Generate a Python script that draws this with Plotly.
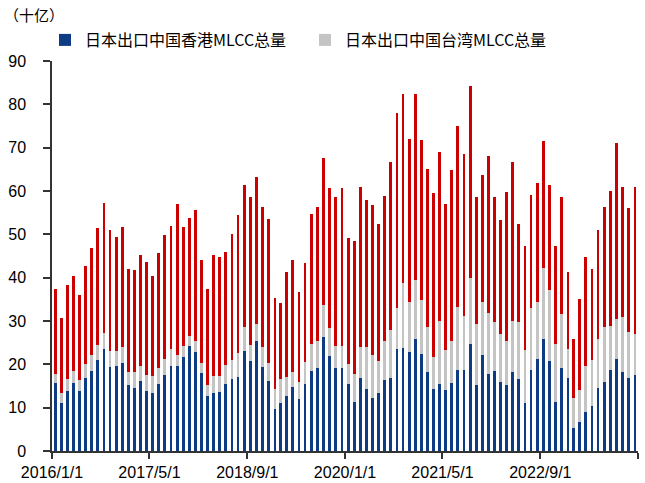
import pandas as pd
import plotly.graph_objects as go

# Monthly MLCC exports from Japan, 2016/1 – 2023/12 (billions of units)
months = pd.date_range("2016-01-01", periods=96, freq="MS")

hong_kong = [
    15.6, 11.1, 13.9, 15.7, 13.9, 16.9, 18.4, 21.1, 23.5, 19.4, 19.7, 20.3,
    15.2, 14.6, 16.2, 13.9, 13.4, 15.4, 17.6, 19.6, 19.7, 21.8, 24.2, 22.9,
    18.1, 12.6, 13.5, 13.6, 15.5, 16.6, 17.1, 23.1, 20.8, 25.3, 19.3, 16.2,
    9.8, 11.1, 12.6, 14.8, 11.9, 15.5, 18.4, 19.2, 26.4, 21.9, 19.1, 19.1,
    15.4, 11.3, 16.9, 14.4, 12.2, 13.4, 16.4, 16.8, 23.5, 23.8, 22.8, 25.9,
    22.3, 18.3, 14.2, 15.5, 14.0, 15.6, 18.8, 18.6, 24.6, 15.3, 22.1, 17.7,
    18.4, 15.9, 15.2, 18.3, 16.6, 11.1, 18.6, 21.2, 25.8, 20.7, 11.3, 19.2,
    16.9, 5.4, 6.8, 9.0, 10.3, 14.5, 16.0, 18.7, 21.2, 18.2, 16.9, 17.5,
]

taiwan = [
    2.1, 2.3, 2.7, 2.7, 2.6, 3.1, 3.8, 3.3, 3.7, 3.6, 3.3, 3.7,
    3.0, 3.6, 3.5, 3.7, 3.8, 3.8, 3.6, 3.9, 2.5, 2.4, 2.4, 2.4,
    2.2, 2.6, 3.7, 3.6, 4.3, 4.3, 5.6, 5.5, 3.6, 4.0, 4.7, 4.0,
    4.6, 5.5, 4.4, 3.5, 4.1, 5.1, 6.2, 6.3, 7.2, 6.4, 5.1, 5.1,
    4.7, 6.5, 7.0, 9.5, 9.9, 7.4, 9.0, 11.2, 9.4, 14.9, 11.7, 13.5,
    12.5, 10.4, 7.4, 14.4, 9.4, 9.7, 14.4, 12.6, 15.4, 13.9, 12.3, 14.1,
    11.3, 11.0, 10.1, 11.6, 13.1, 12.2, 14.4, 13.1, 16.4, 16.4, 13.5, 12.5,
    6.7, 6.8, 7.2, 10.6, 10.8, 11.3, 12.6, 10.2, 9.3, 12.7, 10.5, 9.5,
]

mainland = [
    19.6, 17.3, 21.6, 22.0, 19.6, 22.6, 24.6, 27.0, 30.0, 27.9, 26.3, 27.7,
    23.8, 23.6, 25.5, 26.1, 23.2, 26.5, 28.7, 28.4, 34.8, 27.4, 27.1, 30.4,
    23.7, 22.1, 28.0, 27.5, 26.2, 29.2, 31.7, 32.8, 34.3, 34.0, 32.3, 33.4,
    20.8, 17.6, 24.2, 25.7, 20.7, 22.9, 30.2, 30.8, 34.1, 32.4, 34.5, 36.4,
    29.1, 30.7, 37.1, 34.0, 34.7, 31.5, 33.4, 38.7, 45.1, 43.8, 37.4, 43.1,
    36.9, 36.3, 37.9, 39.2, 33.7, 39.6, 41.8, 37.4, 44.2, 29.4, 29.4, 36.3,
    29.0, 26.4, 34.4, 36.8, 22.8, 24.1, 26.1, 27.5, 29.3, 24.3, 22.5, 27.0,
    17.7, 13.7, 21.0, 25.1, 21.0, 25.1, 27.8, 31.1, 40.5, 30.1, 28.6, 34.0,
]

tick_dates = ["2016-01-01", "2017-05-01", "2018-09-01", "2020-01-01",
              "2021-05-01", "2022-09-01", "2024-01-01"]
tick_labels = ["2016/1/1", "2017/5/1", "2018/9/1", "2020/1/1",
               "2021/5/1", "2022/9/1", ""]

FONT = "Liberation Sans, Arial, Noto Sans CJK SC, sans-serif"
CJK_FONT = "Noto Sans CJK SC, Liberation Sans, sans-serif"

fig = go.Figure()
series = [
    ("日本出口中国香港MLCC总量", hong_kong, "#0D3C84", True),
    ("日本出口中国台湾MLCC总量", taiwan, "#C4C4C4", True),
    ("日本出口中国大陆MLCC总量", mainland, "#CC0000", False),
]
for name, vals, color, show in series:
    fig.add_trace(go.Bar(
        x=months, y=vals, name=name, marker_color=color,
        marker_line_width=0, showlegend=show,
        xperiod="M1", xperiodalignment="middle",
    ))

fig.update_layout(
    barmode="stack",
    bargap=0.53,
    width=645, height=483,
    margin=dict(l=52, r=7, t=61, b=32, autoexpand=False),
    paper_bgcolor="white", plot_bgcolor="white",
    font=dict(family=FONT, size=16, color="#000000"),
    title=dict(text="（十亿）", x=4 / 645, y=1 - 16 / 483,
               xref="container", yref="container",
               xanchor="left", yanchor="middle",
               font=dict(family=CJK_FONT, size=15, color="#000000")),
    legend=dict(orientation="h", xref="container", yref="container",
                x=45 / 645, y=1 - 40 / 483, xanchor="left", yanchor="middle",
                font=dict(family=CJK_FONT, size=16, color="#000000"),
                traceorder="normal", entrywidth=215,
                itemwidth=30, tracegroupgap=0, bgcolor="rgba(0,0,0,0)"),
)

fig.update_xaxes(
    range=["2016-01-01", "2024-01-01"],
    tickmode="array", tickvals=tick_dates, ticktext=tick_labels,
    ticks="outside", ticklen=6, tickwidth=1.5, tickcolor="#333333",
    showline=True, linecolor="#333333", linewidth=1.5,
    showgrid=False, zeroline=False, automargin=False,
    tickfont=dict(family=FONT, size=16),
)
fig.update_yaxes(
    range=[0, 90], dtick=10,
    ticks="outside", ticklen=7, tickwidth=1.5, tickcolor="#333333",
    showline=True, linecolor="#333333", linewidth=1.5,
    showgrid=False, zeroline=False, automargin=False,
    ticklabelstandoff=14,
    tickfont=dict(family=FONT, size=16),
)

fig.write_html("out.html")
